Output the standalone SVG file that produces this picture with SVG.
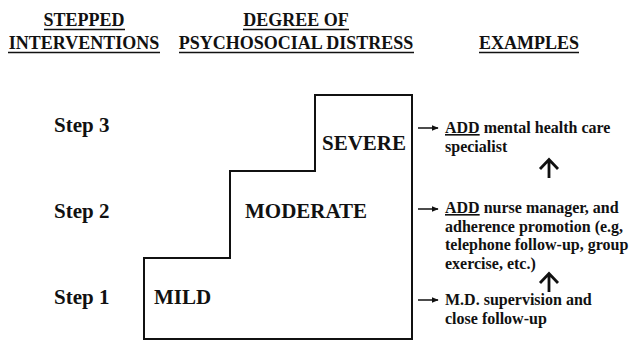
<svg xmlns="http://www.w3.org/2000/svg" width="632" height="343" viewBox="0 0 632 343">
<defs>
<style>
text{font-family:'Liberation Serif','DejaVu Serif',serif;font-weight:700;fill:#111}
.h{font-size:18px;text-anchor:middle}
.s{font-size:21px}
.e{font-size:16px}
.u{text-decoration:underline}
.ul{stroke:#111;stroke-width:1.5}
.stair{fill:none;stroke:#111;stroke-width:2}
.ra{stroke:#111;stroke-width:1.5;fill:none}
.ua{stroke:#111;stroke-width:2.8;fill:none}
</style>
<marker id="ah" viewBox="0 0 10 10" refX="9" refY="5" markerWidth="7" markerHeight="7" markerUnits="userSpaceOnUse" orient="auto"><path d="M0 1 L10 5 L0 9 Z" fill="#111"/></marker>
</defs>
<rect width="632" height="343" fill="#fff"/>
<g id="headers" font-family="Liberation Serif, serif">
<text class="h" x="84" y="26">STEPPED</text>
<line class="ul" x1="44" y1="29.5" x2="125" y2="29.5"/>
<text class="h" x="84" y="49">INTERVENTIONS</text>
<line class="ul" x1="8" y1="52.5" x2="160" y2="52.5"/>
<text class="h" x="296" y="26">DEGREE OF</text>
<line class="ul" x1="243" y1="29.5" x2="349" y2="29.5"/>
<text class="h" x="296" y="49">PSYCHOSOCIAL DISTRESS</text>
<line class="ul" x1="179" y1="52.5" x2="414" y2="52.5"/>
<text class="h" x="529" y="49">EXAMPLES</text>
<line class="ul" x1="479" y1="52.5" x2="579" y2="52.5"/>
</g>
<g id="steps">
<text class="s" x="54" y="132">Step 3</text>
<text class="s" x="54" y="218">Step 2</text>
<text class="s" x="54" y="304">Step 1</text>
</g>
<g id="staircase">
<path class="stair" d="M144 339 V258 H230 V171 H315 V95 H412 V339 Z"/>
<text class="s" x="154" y="304">MILD</text>
<text class="s" x="245" y="218">MODERATE</text>
<text class="s" x="322" y="150">SEVERE</text>
</g>
<g id="example3">
<text class="e" x="445" y="133"><tspan class="u">ADD</tspan> mental health care</text>
<text class="e" x="445" y="152">specialist</text>
</g>
<g id="example2">
<text class="e" x="445" y="213"><tspan class="u">ADD</tspan> nurse manager, and</text>
<text class="e" x="445" y="231.5">adherence promotion (e.g,</text>
<text class="e" x="445" y="250">telephone follow-up, group</text>
<text class="e" x="445" y="268.5">exercise, etc.)</text>
</g>
<g id="example1">
<text class="e" x="445" y="305">M.D. supervision and</text>
<text class="e" x="445" y="324">close follow-up</text>
</g>
<g id="connectors">
<line class="ra" x1="418" y1="128" x2="438" y2="128" marker-end="url(#ah)"/>
<line class="ra" x1="418" y1="209" x2="438" y2="209" marker-end="url(#ah)"/>
<line class="ra" x1="418" y1="300" x2="438" y2="300" marker-end="url(#ah)"/>
<path class="ua" d="M549 178 V160 M540 169 L549 159.5 L558 169"/>
<path class="ua" d="M549 292 V274 M540 283 L549 273.5 L558 283"/>
</g>
</svg>
